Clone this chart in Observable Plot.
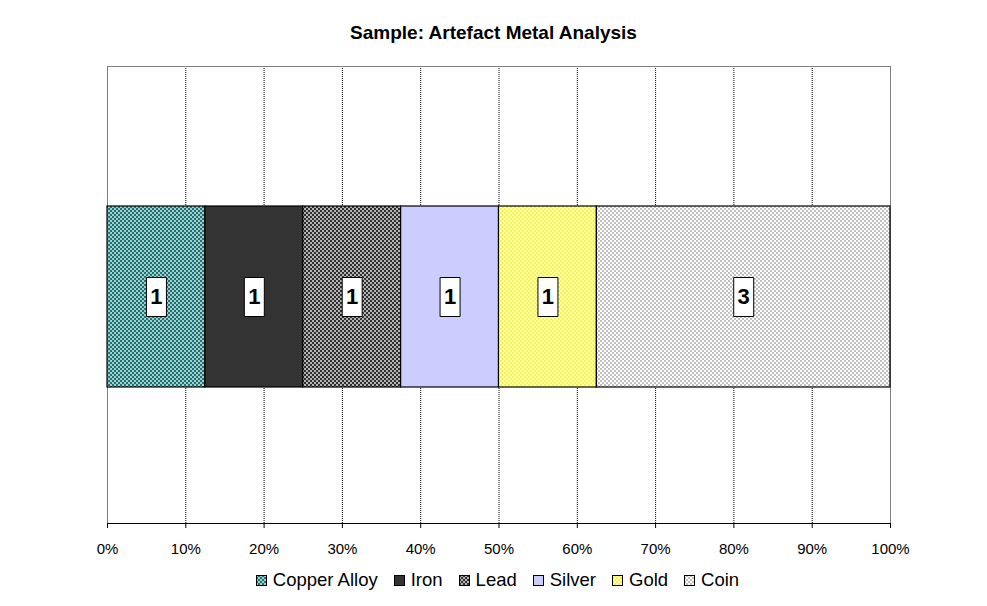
<!DOCTYPE html>
<html><head><meta charset="utf-8">
<script src="https://cdn.jsdelivr.net/npm/d3@7"></script>
<script src="https://cdn.jsdelivr.net/npm/@observablehq/plot@0.6"></script>
<style>
body{margin:0;background:#fff;font-family:"Liberation Sans",Arial,sans-serif;}
#wrap{width:987px;height:606px;overflow:hidden;background:#fff;}
#title{height:50px;box-sizing:border-box;padding-top:22px;text-align:center;font-weight:bold;font-size:19px;line-height:22px;color:#000;}
#chart svg{display:block;}
#legend{display:flex;justify-content:center;align-items:center;height:30px;font-size:18.5px;color:#000;padding-left:8px;}
.item{display:flex;align-items:center;margin:0 8px;}
.item svg{margin-right:6px;display:block;}
</style></head>
<body><div id="wrap"><div id="title">Sample: Artefact Metal Analysis</div><div id="chart"></div><div id="legend"></div></div>
<script>
// ---- data ----
const metals = ["Copper Alloy", "Iron", "Lead", "Silver", "Gold", "Coin"];
const counts = [1, 1, 1, 1, 1, 3];
const sampleName = "Sample";
const xTickValues = [0, 0.1, 0.2, 0.3, 0.4, 0.5, 0.6, 0.7, 0.8, 0.9, 1];
const gridValues = [0.1, 0.2, 0.3, 0.4, 0.5, 0.6, 0.7, 0.8, 0.9];

// ---- styles (patterns) ----
const patternStyles = [
  {id: "pat-copper", bg: "#008080", fg: "#c0c0c0"},
  {id: "pat-iron", bg: "#333333", fg: "#333333"},
  {id: "pat-lead", bg: "#b4b4b4", fg: "#303030"},
  {id: "pat-silver", bg: "#ccccff", fg: "#ccccff"},
  {id: "pat-gold", bg: "#ffff00", fg: "#ffffff"},
  {id: "pat-coin", bg: "#c0c0c0", fg: "#ffffff"}
];
const fillUrls = patternStyles.map(p => `url(#${p.id})`);

const data = metals.map((m, i) => ({metal: m, count: counts[i], sample: sampleName}));

const boxSymbol = {draw(ctx) { ctx.rect(-10, -19.5, 20, 39); }};

const chart = Plot.plot({
  width: 987,
  height: 515,
  marginTop: 16,
  marginBottom: 42,
  marginLeft: 107,
  marginRight: 97,
  style: {fontFamily: '"Liberation Sans", Arial, sans-serif', fontSize: "15px", background: "white", color: "black"},
  x: {domain: [0, 1], label: null},
  y: {domain: [sampleName], axis: null, paddingInner: 0, paddingOuter: 0.7555, align: 0.507},
  color: {domain: metals, range: fillUrls},
  marks: [
    Plot.gridX(gridValues, {stroke: "black", strokeOpacity: 1, strokeDasharray: "1,1"}),
    Plot.frame({stroke: "#808080"}),
    Plot.barX(data, Plot.stackX({x: "count", y: "sample", fill: "metal", offset: "normalize", order: null, stroke: "black", strokeWidth: 1.2})),
    Plot.dot(data, Plot.stackX({x: "count", y: "sample", offset: "normalize", order: null, symbol: boxSymbol, fill: "white", stroke: "black", strokeWidth: 1})),
    Plot.text(data, Plot.stackX({x: "count", y: "sample", offset: "normalize", order: null, text: "count", fontWeight: "bold", fontSize: 22, fill: "black"})),
    Plot.axisX(xTickValues, {tickFormat: d3.format(".0%"), tickSize: 5, tickPadding: 15, fontSize: 15, label: null, stroke: "black"}),
    Plot.frame({anchor: "bottom", stroke: "black"})
  ]
});

// add pattern defs
const svgSel = d3.select(chart);
const defs = svgSel.insert("defs", ":first-child");
for (const p of patternStyles) {
  const pat = defs.append("pattern").attr("id", p.id).attr("patternUnits", "userSpaceOnUse").attr("width", 4).attr("height", 4);
  pat.append("rect").attr("width", 4).attr("height", 4).attr("fill", p.bg);
  pat.append("rect").attr("x", 0).attr("y", 0).attr("width", 2).attr("height", 2).attr("fill", p.fg);
  pat.append("rect").attr("x", 2).attr("y", 2).attr("width", 2).attr("height", 2).attr("fill", p.fg);
}
document.getElementById("chart").appendChild(chart);

// legend
const legend = d3.select("#legend");
metals.forEach((m, i) => {
  const it = legend.append("div").attr("class", "item");
  const s = it.append("svg").attr("width", 11).attr("height", 11);
  s.append("rect").attr("x", 0.5).attr("y", 0.5).attr("width", 10).attr("height", 10).attr("fill", fillUrls[i]).attr("stroke", "black");
  it.append("span").text(m);
});
</script>
</body></html>
